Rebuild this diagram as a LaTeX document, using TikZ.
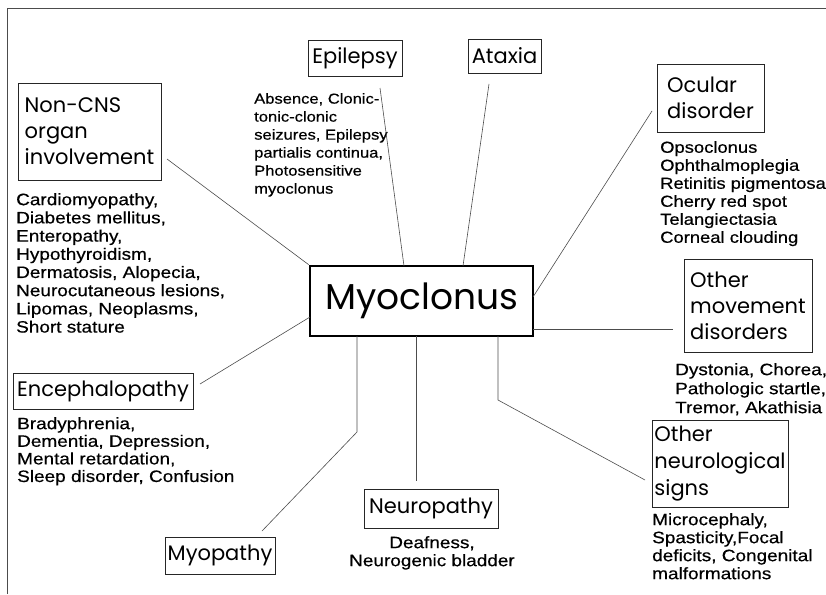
\documentclass[tikz,border=0pt]{standalone}
\usepackage{fontspec}
\newfontfamily\gothic{Poppins}
\newfontfamily\listf[FakeStretch=1.15,FakeBold=0.5]{Liberation Sans}
\tikzset{
  box/.style={draw=black!85, line width=0.8pt, inner sep=0pt, align=left,
    font=\gothic\fontsize{21}{26}\selectfont},
  mainbox/.style={draw=black, line width=2.6pt, inner sep=0pt,
    font=\gothic\fontsize{36}{40}\selectfont},
  lst/.style={inner sep=0pt, anchor=north west, align=left,
    font=\listf\fontsize{16.5}{18.2}\selectfont},
  conn/.style={draw=black!70, line width=0.6pt},
  frameline/.style={draw=black!70, line width=0.8pt}
}
\begin{document}
\begin{tikzpicture}[x=1pt,y=-1pt]
\useasboundingbox (0,0) rectangle (826,594);
% frame
\draw[frameline] (7,594) -- (7,8) -- (826,8);

% boxes
\node[mainbox, minimum width=223, minimum height=70] (myo) at (421.5,301) {Myoclonus};
\node[box, minimum width=143, minimum height=97] (noncns) at (89.5,131.5) {Non-CNS\\organ\\involvement};
\node[box, minimum width=94, minimum height=36] (epi) at (355,58) {Epilepsy};
\node[box, minimum width=73, minimum height=34] (atx) at (504.5,56) {Ataxia};
\node[box, minimum width=107, minimum height=68] (ocu) at (710.5,98) {Ocular\\disorder};
\node[box, minimum width=128, minimum height=93] (mov) at (748,305.5) {Other\\movement\\disorders};
\node[box, minimum width=136, minimum height=87, font=\gothic\fontsize{21}{27}\selectfont] (sig) at (720,463.5) {Other\\neurological\\signs};
\node[box, minimum width=180, minimum height=36] (enc) at (103,391) {Encephalopathy};
\node[box, minimum width=110, minimum height=37] (myp) at (220,555.5) {Myopathy};
\node[box, minimum width=134, minimum height=39] (neu) at (431,508.5) {Neuropathy};

% lists
\node[lst] (noncnsL) at (16,193) {Cardiomyopathy,\\Diabetes mellitus,\\Enteropathy,\\Hypothyroidism,\\Dermatosis, Alopecia,\\Neurocutaneous lesions,\\Lipomas, Neoplasms,\\Short stature};
\node[lst, font=\listf\fontsize{14.4}{18}\selectfont] (epiL) at (254,93) {Absence, Clonic-\\tonic-clonic\\seizures, Epilepsy\\partialis continua,\\Photosensitive\\myoclonus};
\node[lst, font=\listf\fontsize{16}{18}\selectfont] (ocuL) at (660,141) {Opsoclonus\\Ophthalmoplegia\\Retinitis pigmentosa\\Cherry red spot\\Telangiectasia\\Corneal clouding};
\node[lst, font=\listf\fontsize{16.5}{19}\selectfont] (movL) at (675,363) {Dystonia, Chorea,\\Pathologic startle,\\Tremor, Akathisia};
\node[lst, font=\listf\fontsize{16.5}{18}\selectfont] (sigL) at (652,513) {Microcephaly,\\Spasticity,Focal\\deficits, Congenital\\malformations};
\node[lst, font=\listf\fontsize{16.5}{17.6}\selectfont] (encL) at (17,417) {Bradyphrenia,\\Dementia, Depression,\\Mental retardation,\\Sleep disorder, Confusion};
\node[lst, anchor=north, align=center, font=\listf\fontsize{16.5}{18}\selectfont] (neuL) at (432,536) {Deafness,\\Neurogenic bladder};

% connector end points
\coordinate (pNC) at (167,159);
\coordinate (pEp) at (380,88);
\coordinate (qEp) at (404,266);
\coordinate (pAt) at (489,84);
\coordinate (qAt) at (463,266);
\coordinate (pOc) at (652,111);
\coordinate (qOc) at (533,297);
\coordinate (qMv) at (533,329);
\coordinate (pMv) at (673,329);
\coordinate (qSg) at (498,336);
\coordinate (bSg) at (498,400);
\coordinate (pSg) at (645,480);
\coordinate (qNp) at (416,336);
\coordinate (pNp) at (416,481);
\coordinate (qMy) at (357,336);
\coordinate (bMy) at (357,432);
\coordinate (pMy) at (262,531);
\coordinate (pEn) at (200,384);
\coordinate (qEn) at (310,317);

% connectors
\draw[conn] (pNC) -- (myo.north west);
\draw[conn] (pEp) -- (qEp);
\draw[conn] (pAt) -- (qAt);
\draw[conn] (pOc) -- (qOc);
\draw[conn] (qMv) -- (pMv);
\draw[conn] (qSg) -- (bSg) -- (pSg);
\draw[conn] (qNp) -- (pNp);
\draw[conn] (qMy) -- (bMy) -- (pMy);
\draw[conn] (pEn) -- (qEn);
\end{tikzpicture}
\end{document}
